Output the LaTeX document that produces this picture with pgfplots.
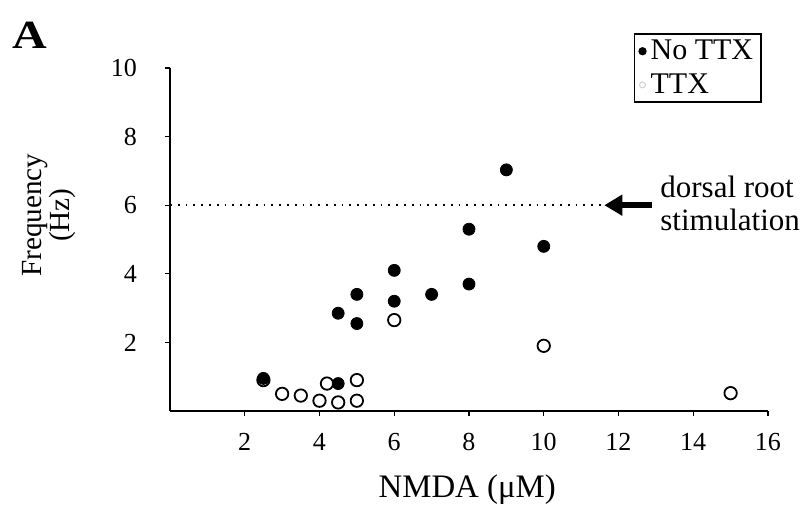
\documentclass[border=0pt]{standalone}
\usepackage{fontspec}
\setmainfont{Liberation Serif}
\usepackage{pgfplots}
\pgfplotsset{compat=1.18}
\usetikzlibrary{arrows.meta}

\begin{document}
\begin{tikzpicture}
\useasboundingbox (-85pt,-49pt) rectangle (317.5pt,205.5pt);
\begin{axis}[
  scale only axis, width=299pt, height=171.5pt,
  xmin=0, xmax=16, ymin=0, ymax=10,
  axis x line*=bottom, axis y line*=left,
  axis line style={-, line width=0.8pt},
  xtick={2,4,...,16}, ytick={2,4,...,10},
  tick align=outside, major tick length=2.5pt,
  tick style={line width=0.6pt, black},
  /pgf/number format/assume math mode=true,
  ticklabel style={font=\fontsize{13}{14}\selectfont},
  xticklabel style={yshift=-5pt},
  yticklabel style={xshift=-10.5pt},
  xlabel={NMDA (μM)},
  xlabel style={at={(axis description cs:0.497,-0.23)}, anchor=center,
    font=\fontsize{16.4}{18}\selectfont},
  ylabel={Frequency\\(Hz)},
  ylabel style={at={(axis description cs:-0.203,0.571)}, anchor=center,
    align=center, font=\fontsize{14.6}{14}\selectfont},
  clip=false,
  reverse legend,
  legend style={at={(axis description cs:0.990,1.102)}, anchor=north east,
    draw=black, line width=0.9pt, font=\fontsize{15}{16}\selectfont,
    inner xsep=2pt, inner ysep=1pt, row sep=1.5pt, cells={anchor=west}},
]
% TTX (open circles)
\addplot[only marks, mark=*, mark size=3.1pt,
  mark options={fill=white, draw=black, line width=0.9pt},
  legend image code/.code={\draw[gray!35, line width=0.5pt] (0pt,0pt) circle (1.5pt);}]
coordinates {
  (2.5,0.9) (3,0.5) (3.5,0.45) (4,0.3) (4.2,0.8) (4.5,0.25)
  (5,0.9) (5,0.3) (6,2.65) (10,1.9) (15,0.52)
};
\addlegendentry{TTX\hspace{7pt}}
% No TTX (filled circles)
\addplot[only marks, mark=*, mark size=3pt, mark options={fill=black, draw=black},
  legend image code/.code={\fill[black] (0pt,0pt) circle (1.6pt);}]
coordinates {
  (2.5,0.95) (4.5,0.8) (4.5,2.85) (5,3.4) (5,2.55) (6,4.1)
  (6,3.2) (7,3.4) (8,3.7) (8,5.3) (9,7.03) (10,4.8)
};
\addlegendentry{No TTX\hspace{7pt}}
% dorsal root stimulation level
\addplot[black, line width=0.9pt, dash pattern=on 0.9pt off 3pt, forget plot]
coordinates {(0,6) (11.6,6)};
\draw[line width=3pt, -{Triangle[length=9pt,width=10pt]}]
  (axis cs:12.9,6) -- (axis cs:11.62,6);
\node[anchor=north west, align=left, inner sep=0pt,
  font=\fontsize{15.5}{16.5}\selectfont] at (axis cs:13.11,6.85)
  {dorsal root\\stimulation};
\node[font=\fontsize{20}{22}\selectfont\bfseries, xscale=1.2]
  at (axis description cs:-0.234,1.096) {A};
\end{axis}
\end{tikzpicture}
\end{document}
